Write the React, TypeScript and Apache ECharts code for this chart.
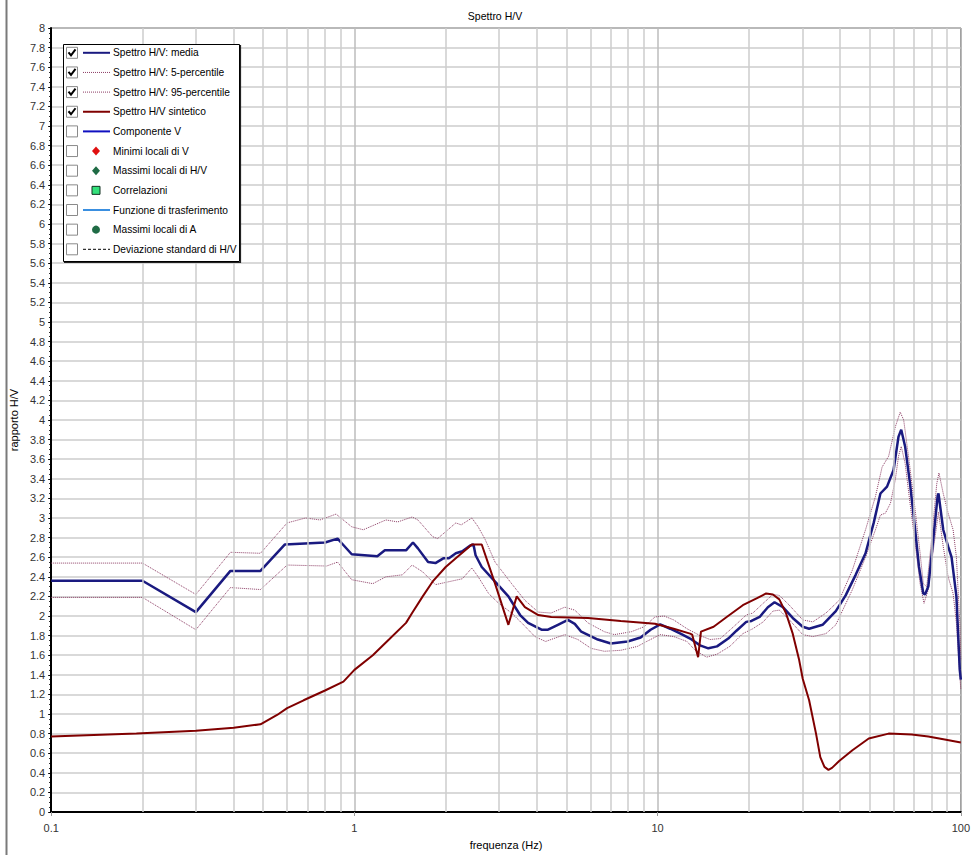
import React, { useEffect, useRef } from "react";
import * as echarts from "echarts";

// ---- Data ----
const freqMean = [0.1, 0.2, 0.3, 0.39, 0.49, 0.59, 0.8, 0.88, 0.91, 0.98, 1.19, 1.26, 1.48, 1.56, 1.62, 1.75, 1.85, 1.97, 2.05, 2.16, 2.27, 2.41, 2.47, 2.51, 2.63, 2.91, 3.22, 3.52, 3.74, 4.14, 4.35, 4.69, 5.06, 5.33, 5.6, 6.35, 7.01, 7.96, 8.79, 9.48, 10.2, 11.0, 11.9, 12.8, 13.8, 14.7, 15.7, 17.1, 18.2, 19.6, 20.4, 21.7, 23.1, 24.3, 25.9, 27.9, 30.1, 31.6, 35.0, 38.7, 41.7, 45.0, 48.5, 51.6, 54.3, 57.1, 60.0, 62.3, 63.6, 65.5, 68.0, 70.7, 72.8, 75.2, 76.2, 78.1, 81.1, 83.9, 84.4, 87.5, 90.8, 93.2, 96.7, 99.2, 100];
const hvMean = [2.36, 2.36, 2.04, 2.46, 2.46, 2.73, 2.75, 2.79, 2.74, 2.63, 2.61, 2.67, 2.67, 2.75, 2.69, 2.55, 2.54, 2.59, 2.59, 2.64, 2.66, 2.72, 2.73, 2.62, 2.50, 2.35, 2.20, 2.01, 1.93, 1.86, 1.86, 1.91, 1.96, 1.92, 1.84, 1.76, 1.72, 1.74, 1.78, 1.86, 1.915, 1.87, 1.82, 1.77, 1.70, 1.67, 1.69, 1.77, 1.85, 1.94, 1.95, 1.99, 2.09, 2.14, 2.09, 1.98, 1.89, 1.87, 1.91, 2.05, 2.21, 2.42, 2.64, 2.95, 3.25, 3.32, 3.49, 3.83, 3.90, 3.73, 3.35, 2.88, 2.50, 2.23, 2.22, 2.30, 2.78, 3.23, 3.25, 2.88, 2.71, 2.60, 2.20, 1.45, 1.35];

const freqP95 = [0.1, 0.2, 0.3, 0.39, 0.49, 0.6, 0.69, 0.77, 0.87, 0.98, 1.07, 1.27, 1.39, 1.55, 1.62, 1.81, 1.88, 2.0, 2.16, 2.25, 2.44, 2.56, 2.70, 2.91, 3.30, 3.65, 4.04, 4.45, 4.94, 5.33, 5.89, 6.67, 7.2, 8.2, 9.02, 9.8, 10.5, 11.3, 12.5, 13.8, 14.9, 16.1, 17.8, 19.6, 20.6, 22.3, 24.0, 25.2, 27.2, 30.1, 32.5, 35.9, 39.7, 43.9, 48.5, 52.3, 55.0, 57.8, 60.8, 63.1, 64.8, 67.2, 70.7, 73.4, 75.2, 77.2, 80.1, 83.3, 84.7, 87.5, 90.8, 94.3, 96.7, 99.2, 100];
const hvP95 = [2.54, 2.54, 2.22, 2.65, 2.64, 2.95, 3.0, 2.98, 3.04, 2.91, 2.88, 2.98, 2.96, 3.01, 2.98, 2.81, 2.79, 2.86, 2.95, 2.93, 3.0, 2.91, 2.78, 2.55, 2.33, 2.16, 2.04, 2.03, 2.09, 2.06, 1.93, 1.84, 1.81, 1.84, 1.89, 1.99, 2.0, 1.96, 1.87, 1.8, 1.76, 1.77, 1.89, 2.01, 2.03, 2.13, 2.22, 2.21, 2.11, 1.96, 1.94, 2.03, 2.16, 2.47, 2.88, 3.22, 3.52, 3.63, 3.93, 4.08, 4.0, 3.63, 3.08, 2.64, 2.33, 2.3, 2.78, 3.35, 3.46, 3.25, 3.05, 2.88, 2.6, 1.93, 1.55];

const freqP5 = [0.1, 0.2, 0.3, 0.39, 0.49, 0.6, 0.81, 0.88, 0.98, 1.15, 1.27, 1.44, 1.55, 1.68, 1.85, 2.05, 2.27, 2.44, 2.56, 2.77, 2.99, 3.30, 3.56, 3.94, 4.27, 4.94, 5.46, 6.03, 6.67, 7.56, 8.58, 9.2, 10.2, 11.3, 12.5, 13.3, 14.5, 15.7, 17.3, 19.1, 20.6, 22.3, 24.0, 25.2, 27.2, 30.1, 32.5, 35.9, 38.7, 43.9, 48.5, 52.3, 54.3, 56.4, 58.6, 60.8, 62.3, 63.6, 65.5, 68.0, 70.7, 73.4, 75.6, 78.1, 81.1, 84.4, 87.5, 90.8, 94.3, 96.7, 99.2, 100];
const hvP5 = [2.19, 2.19, 1.86, 2.29, 2.27, 2.52, 2.51, 2.55, 2.37, 2.33, 2.40, 2.42, 2.52, 2.45, 2.32, 2.35, 2.38, 2.49, 2.40, 2.23, 2.13, 2.03, 1.93, 1.79, 1.74, 1.81, 1.76, 1.67, 1.64, 1.65, 1.69, 1.74, 1.81, 1.79, 1.74, 1.65, 1.58, 1.61, 1.69, 1.82, 1.87, 1.94, 2.05, 2.06, 1.96, 1.81, 1.79, 1.82, 1.91, 2.27, 2.60, 2.88, 3.03, 3.05, 3.15, 3.39, 3.63, 3.73, 3.56, 3.15, 2.74, 2.33, 2.13, 2.27, 2.67, 3.06, 2.71, 2.40, 2.23, 1.93, 1.40, 1.25];

const freqSynth = [0.1, 0.124, 0.191, 0.3, 0.4, 0.49, 0.556, 0.6, 0.68, 0.8, 0.92, 1.0, 1.15, 1.30, 1.48, 1.55, 1.68, 1.81, 2.0, 2.16, 2.32, 2.44, 2.63, 2.91, 3.22, 3.43, 3.65, 4.04, 4.46, 5.89, 7.56, 9.8, 11.3, 12.8, 13.0, 13.6, 13.9, 15.3, 16.9, 19.1, 21.2, 22.8, 24.0, 25.2, 26.5, 27.9, 29.3, 30.1, 31.6, 33.3, 34.4, 35.5, 36.6, 37.6, 39.7, 43.9, 49.7, 57.8, 68.9, 78.1, 88.5, 100];
const hvSynth = [0.77, 0.78, 0.80, 0.83, 0.86, 0.895, 0.99, 1.06, 1.14, 1.24, 1.33, 1.45, 1.60, 1.76, 1.93, 2.03, 2.20, 2.35, 2.50, 2.59, 2.67, 2.73, 2.73, 2.33, 1.91, 2.20, 2.09, 2.01, 1.99, 1.98, 1.95, 1.92, 1.87, 1.82, 1.81, 1.58, 1.84, 1.89, 1.99, 2.11, 2.18, 2.23, 2.22, 2.17, 2.03, 1.82, 1.55, 1.36, 1.14, 0.80, 0.56, 0.46, 0.43, 0.45, 0.52, 0.63, 0.75, 0.80, 0.79, 0.77, 0.74, 0.71];

const minorGridFreqs = [0.2, 0.3, 0.4, 0.5, 0.6, 0.7, 0.8, 0.9, 2, 3, 4, 5, 6, 7, 8, 9, 20, 30, 40, 50, 60, 70, 80, 90];

const legendLabels = [
  "Spettro H/V: media",
  "Spettro H/V: 5-percentile",
  "Spettro H/V: 95-percentile",
  "Spettro H/V sintetico",
  "Componente V",
  "Minimi locali di V",
  "Massimi locali di H/V",
  "Correlazioni",
  "Funzione di trasferimento",
  "Massimi locali di A",
  "Deviazione standard di H/V",
];
const legendChecked = [true, true, true, true, false, false, false, false, false, false, false];

// legend sample styles
const legendSamples: { kind: string; color: string; width?: number; dash?: number[] }[] = [
  { kind: "line", color: "#1a1a80", width: 2 },
  { kind: "line", color: "#8c3c64", width: 1, dash: [1, 1] },
  { kind: "line", color: "#8c3c64", width: 1, dash: [1, 1] },
  { kind: "line", color: "#800000", width: 2 },
  { kind: "line", color: "#1010c0", width: 2 },
  { kind: "diamond", color: "#e01010" },
  { kind: "diamond", color: "#1f6b45" },
  { kind: "square", color: "#33e07a" },
  { kind: "line", color: "#3a8fe0", width: 2 },
  { kind: "circle", color: "#1f6b45" },
  { kind: "line", color: "#000000", width: 1, dash: [3, 2] },
];

const zip = (xs: number[], ys: number[]) => xs.map((x, i) => [x, ys[i]]);

function buildLegend() {
  const els: any[] = [];
  els.push({
    type: "rect",
    shape: { x: 63.5, y: 44.5, width: 176, height: 217 },
    style: { fill: "#ffffff", stroke: "#000000", lineWidth: 1 },
    z: 100,
  });
  // slight shadow on right/bottom edges
  els.push({
    type: "polyline",
    shape: { points: [[240.5, 45], [240.5, 262.5], [64, 262.5]] },
    style: { stroke: "#222", lineWidth: 1.2, fill: null },
    z: 100,
  });
  legendLabels.forEach((label, i) => {
    const cy = 52.8 + i * 19.65;
    els.push({
      type: "rect",
      shape: { x: 66.5, y: cy - 5.5, width: 11, height: 11 },
      style: { fill: "#ffffff", stroke: "#8a8a8a", lineWidth: 1 },
      z: 101,
    });
    if (legendChecked[i]) {
      els.push({
        type: "polyline",
        shape: { points: [[68.5, cy - 0.5], [71, cy + 2.5], [75.5, cy - 3.5]] },
        style: { stroke: "#000000", lineWidth: 2, fill: null },
        z: 102,
      });
    }
    const s = legendSamples[i];
    if (s.kind === "line") {
      els.push({
        type: "line",
        shape: { x1: 83, y1: cy, x2: 110, y2: cy },
        style: { stroke: s.color, lineWidth: s.width, lineDash: s.dash || null },
        z: 101,
      });
    } else if (s.kind === "diamond") {
      els.push({
        type: "polygon",
        shape: { points: [[96, cy - 4.5], [100, cy], [96, cy + 4.5], [92, cy]] },
        style: { fill: s.color },
        z: 101,
      });
    } else if (s.kind === "square") {
      els.push({
        type: "rect",
        shape: { x: 92, y: cy - 4, width: 8, height: 8 },
        style: { fill: s.color, stroke: "#103020", lineWidth: 1 },
        z: 101,
      });
    } else if (s.kind === "circle") {
      els.push({
        type: "circle",
        shape: { cx: 96, cy, r: 4 },
        style: { fill: s.color },
        z: 101,
      });
    }
    els.push({
      type: "text",
      x: 113,
      y: cy,
      style: {
        text: label,
        fill: "#000000",
        fontSize: 10.2,
        fontFamily: "Liberation Sans, Arial, sans-serif",
        verticalAlign: "middle",
        align: "left",
      },
      z: 101,
    });
  });
  // outer frame line on the left
  els.push({
    type: "line",
    shape: { x1: 6.5, y1: 0, x2: 6.5, y2: 855 },
    style: { stroke: "#7a7a7a", lineWidth: 2 },
    z: 100,
  });
  return els;
}

export default function App() {
  const ref = useRef<HTMLDivElement>(null);
  useEffect(() => {
    if (!ref.current) return;
    const chart = echarts.init(ref.current, null, { renderer: "svg" });
    const font = "Liberation Sans, Arial, sans-serif";
    const option: any = {
      animation: false,
      backgroundColor: "#ffffff",
      textStyle: { fontFamily: font },
      title: {
        text: "Spettro H/V",
        left: 490,
        top: 5,
        textAlign: "center",
        textStyle: { fontSize: 10.5, fontWeight: "normal", color: "#000", fontFamily: font },
      },
      grid: {
        left: 49,
        right: 7,
        top: 28,
        bottom: 43,
        show: true,
        borderColor: "#000",
        borderWidth: 1,
        backgroundColor: "#fff",
      },
      xAxis: {
        type: "log",
        logBase: 10,
        min: 0.1,
        max: 100,
        name: "frequenza (Hz)",
        nameLocation: "middle",
        nameGap: 27,
        nameTextStyle: { fontSize: 11, color: "#000", fontFamily: font },
        axisLine: { show: true, lineStyle: { color: "#000", width: 2 } },
        axisTick: { show: true, length: 4, lineStyle: { color: "#999" } },
        axisLabel: {
          fontSize: 11,
          color: "#333",
          margin: 10,
          fontFamily: font,
          formatter: (v: number) => String(Math.round(v * 10) / 10),
        },
        splitLine: { show: true, lineStyle: { color: "#bdbdbd", width: 1.5 } },
      },
      yAxis: {
        type: "value",
        min: 0,
        max: 8,
        interval: 0.2,
        name: "rapporto H/V",
        nameLocation: "middle",
        nameGap: 26,
        nameTextStyle: { fontSize: 11, color: "#000", fontFamily: font },
        axisLine: { show: true, lineStyle: { color: "#000", width: 2 } },
        axisTick: { show: true, length: 3, lineStyle: { color: "#000" } },
        minorTick: { show: true, splitNumber: 4, length: 2, lineStyle: { color: "#000" } },
        axisLabel: {
          fontSize: 11,
          color: "#333",
          margin: 6,
          fontFamily: font,
          formatter: (v: number) => String(Math.round(v * 10) / 10),
        },
        splitLine: { show: true, lineStyle: { color: "#cccccc", width: 1.5 } },
      },
      series: [
        {
          type: "line",
          name: "grid",
          data: [[0.1, 0]],
          symbol: "none",
          lineStyle: { opacity: 0 },
          silent: true,
          z: 1,
          markLine: {
            silent: true,
            symbol: ["none", "none"],
            label: { show: false },
            lineStyle: { color: "#cccccc", type: "solid", width: 1.5 },
            emphasis: { disabled: true },
            data: minorGridFreqs.map((f) => ({ xAxis: f })),
          },
        },
        {
          type: "line",
          name: "Spettro H/V: 95-percentile",
          data: zip(freqP95, hvP95),
          symbol: "none",
          lineStyle: { color: "#8c3c64", width: 1, type: [1, 1] },
          z: 3,
        },
        {
          type: "line",
          name: "Spettro H/V: 5-percentile",
          data: zip(freqP5, hvP5),
          symbol: "none",
          lineStyle: { color: "#8c3c64", width: 1, type: [1, 1] },
          z: 3,
        },
        {
          type: "line",
          name: "Spettro H/V: media",
          data: zip(freqMean, hvMean),
          symbol: "none",
          lineStyle: { color: "#1a1a80", width: 2.5 },
          z: 4,
        },
        {
          type: "line",
          name: "Spettro H/V sintetico",
          data: zip(freqSynth, hvSynth),
          symbol: "none",
          lineStyle: { color: "#800000", width: 2 },
          z: 5,
        },
      ],
      graphic: buildLegend(),
    };
    chart.setOption(option);
    return () => chart.dispose();
  }, []);
  return (
    <div
      ref={ref}
      style={{ position: "fixed", left: 0, top: 0, width: 973, height: 855, background: "#fff" }}
    />
  );
}
